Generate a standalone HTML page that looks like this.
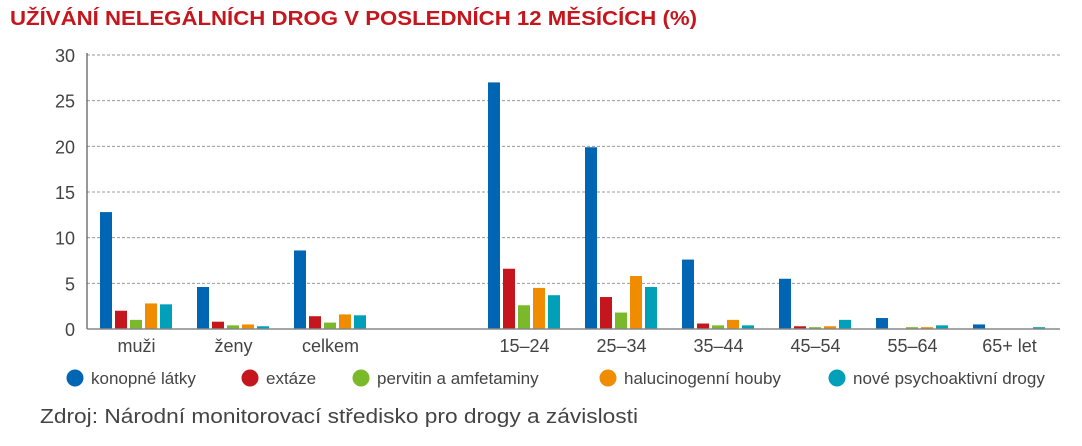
<!DOCTYPE html>
<html><head><meta charset="utf-8"><style>
body{margin:0;background:#fff;font-family:"Liberation Sans",sans-serif;}
</style></head><body>
<svg width="1082" height="441" xmlns="http://www.w3.org/2000/svg">
<text x="10" y="25" font-size="20" font-weight="bold" fill="#c4161c" textLength="687" lengthAdjust="spacingAndGlyphs" font-family="Liberation Sans, sans-serif">UŽÍVÁNÍ NELEGÁLNÍCH DROG V POSLEDNÍCH 12 MĚSÍCÍCH (%)</text>
<g id="grid"></g><g id="bars"></g><g id="axes"></g><g id="legend"></g>
<text x="40" y="423" font-size="20" fill="#444" textLength="598" lengthAdjust="spacingAndGlyphs">Zdroj: Národní monitorovací středisko pro drogy a závislosti</text>
</svg>
<script>
const categories=["muži","ženy","celkem","","15–24","25–34","35–44","45–54","55–64","65+ let"];
const seriesNames=["konopné látky","extáze","pervitin a amfetaminy","halucinogenní houby","nové psychoaktivní drogy"];
const konopne=[12.8,4.6,8.6,null,27.0,19.9,7.6,5.5,1.2,0.5];
const extaze=[2.0,0.8,1.4,null,6.6,3.5,0.6,0.3,0,0];
const pervitin=[1.0,0.4,0.7,null,2.6,1.8,0.4,0.2,0.2,0];
const halucinogeny=[2.8,0.5,1.6,null,4.5,5.8,1.0,0.3,0.2,0];
const npd=[2.7,0.3,1.5,null,3.7,4.6,0.4,1.0,0.4,0.2];
const yTicks=[0,5,10,15,20,25,30];
const series=[konopne,extaze,pervitin,halucinogeny,npd];
const colors=["#0066b3","#c4161c","#7ab929","#ef8c00","#00a0b8"];
const NS="http://www.w3.org/2000/svg";
const x0=87,x1=1060,yTop=55,yBot=329,yMax=30,slot=97;
const y=v=>yBot-(v/yMax)*(yBot-yTop);
const slotCenter=i=>x0+1+slot*(i+0.5);
function mk(tag,attrs,parent){const e=document.createElementNS(NS,tag);for(const k in attrs)e.setAttribute(k,attrs[k]);document.getElementById(parent).appendChild(e);return e;}
yTicks.forEach(t=>{
  if(t>0){const l=mk("line",{x1:x0,x2:x1,y1:y(t),y2:y(t),stroke:"#999","stroke-dasharray":"3,2","stroke-width":1},"grid");
  
  }
  const tx=mk("text",{x:75,y:y(t)+7,"font-size":18,fill:"#444","text-anchor":"end"},"axes");tx.textContent=t;
  
  
});
const ax=mk("line",{x1:x0,x2:x0,y1:yTop-2,y2:yBot,stroke:"#555","stroke-width":1.2},"axes");


const bx=mk("line",{x1:x0,x2:x1,y1:yBot,y2:yBot,stroke:"#888","stroke-width":1.5},"axes");


categories.forEach((c,i)=>{
  const cx=slotCenter(i);
  series.forEach((s,k)=>{
    const v=s[i]; if(v==null||v<=0) return;
    const r=mk("rect",{x:cx-36.5+k*15,y:y(v),width:12,height:yBot-y(v),fill:colors[k]},"bars");
    
    
  });
  if(c){const t=mk("text",{x:cx,y:352,"font-size":18,fill:"#444","text-anchor":"middle"},"axes");t.textContent=c;
  
  }
});
const lx=[75,250,361,608,837];
seriesNames.forEach((n,k)=>{
  const c=mk("circle",{cx:lx[k],cy:378,r:8.5,fill:colors[k]},"legend");
  
  
  const t=mk("text",{x:lx[k]+16,y:384,"font-size":17,fill:"#444"},"legend");t.textContent=n;
  
  
});
</script>
</body></html>
